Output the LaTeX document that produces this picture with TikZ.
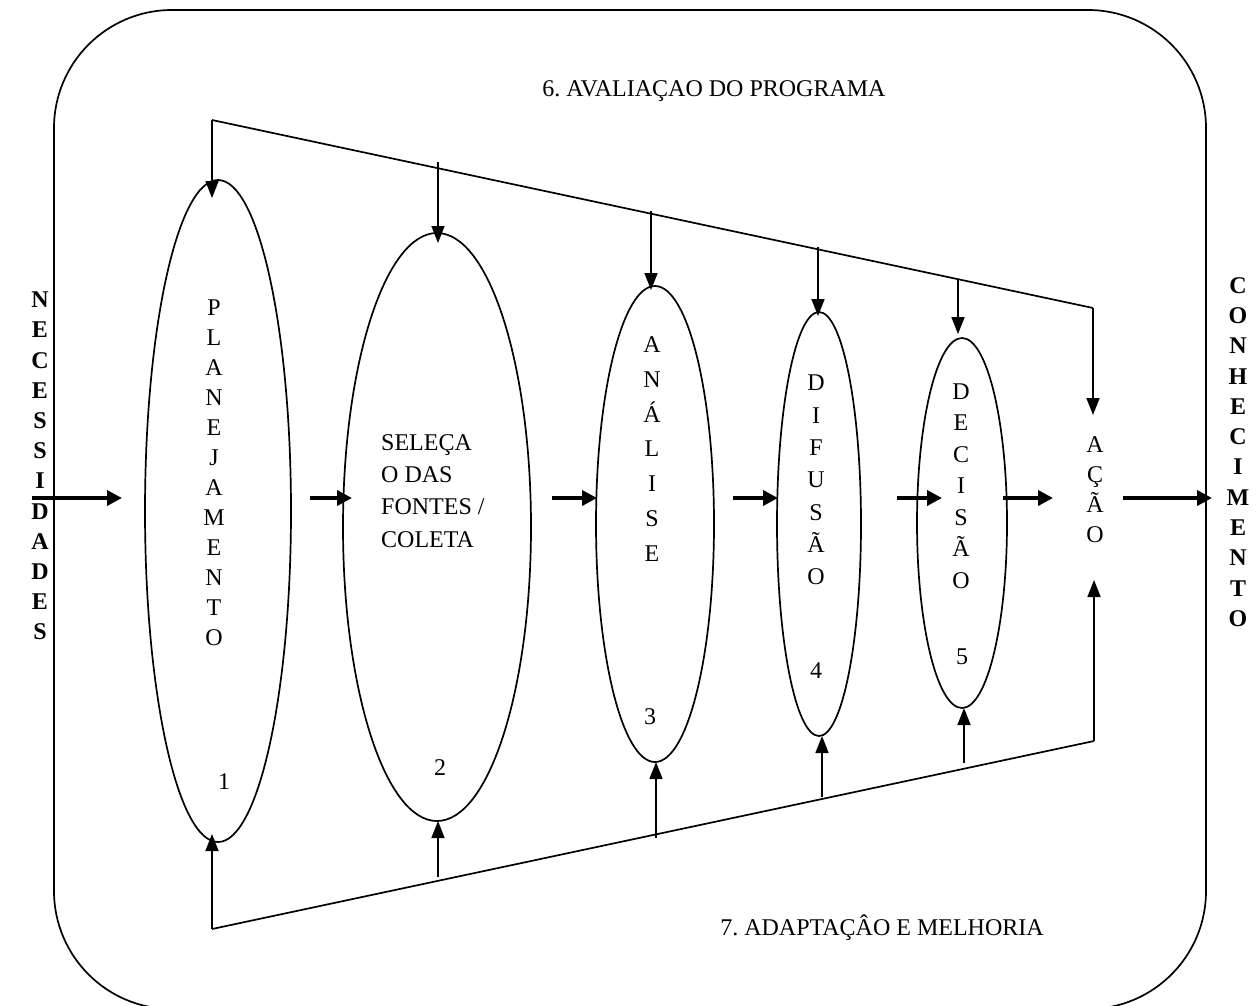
\documentclass[tikz,border=0pt]{standalone}
\usepackage{fontspec}
\setmainfont{Liberation Serif}
\usetikzlibrary{shapes.geometric,arrows.meta}
\begin{document}
\frenchspacing
\begin{tikzpicture}[x=1pt,y=-1pt,
  lbl/.style={font=\fontsize{24}{28}\selectfont, inner sep=0pt},
  stack/.style={inner sep=0pt, align=center, font=\fontsize{24}{#1}\selectfont},
  boldstack/.style={inner sep=0pt, align=center, font=\fontsize{24}{#1}\selectfont\bfseries},
  stage/.style={ellipse, draw, line width=1.7pt, inner sep=0pt, outer sep=0pt},
  feed/.style={line width=1.7pt},
  feedarrow/.style={feed, -{Triangle[length=17pt,width=13pt]}},
  flow/.style={line width=3.6pt, -{Triangle[length=15pt,width=15pt]}},
]
\useasboundingbox (0,0) rectangle (1257,1005);
% outer frame
\draw[line width=1.7pt, rounded corners=118pt] (54,10) rectangle (1206,1009);

% process stages
\node[stage, minimum width=146pt, minimum height=662pt] (e1) at (218,511) {};
\node[stage, minimum width=188pt, minimum height=588pt] (e2) at (437,527) {};
\node[stage, minimum width=118pt, minimum height=476pt] (e3) at (655,524) {};
\node[stage, minimum width=84pt,  minimum height=424pt] (e4) at (819,524) {};
\node[stage, minimum width=90pt,  minimum height=370pt] (e5) at (962,523) {};

% stage labels
\node[stack=30] (pla) at (214,473) {P\\L\\A\\N\\E\\J\\A\\M\\E\\N\\T\\O};
\node[inner sep=0pt, align=left, anchor=west, font=\fontsize{24}{32.3}\selectfont] (sel) at (381,491)
  {SELEÇA\\O DAS\\FONTES /\\COLETA};
\node[stack=34.7] (ana) at (652,449) {A\\N\\Á\\L\\I\\S\\E};
\node[stack=32.3] (dif) at (816,480) {D\\I\\F\\U\\S\\Ã\\O};
\node[stack=31.5] (dec) at (961,486) {D\\E\\C\\I\\S\\Ã\\O};
\node[stack=30] (aca) at (1095,490) {A\\Ç\\Ã\\O};

% stage numbers
\node[lbl] (n1) at (224,782) {1};
\node[lbl] (n2) at (440,768) {2};
\node[lbl] (n3) at (650,717) {3};
\node[lbl] (n4) at (816,671) {4};
\node[lbl] (n5) at (962,657) {5};

% input and output
\node[boldstack=30.2] (nec) at (40,466) {N\\E\\C\\E\\S\\S\\I\\D\\A\\D\\E\\S};
\node[boldstack=30.3] (con) at (1238,452) {C\\O\\N\\H\\E\\C\\I\\M\\E\\N\\T\\O};

% loop titles
\node[lbl] (t6) at (714,91) {6. AVALIAÇAO DO PROGRAMA};
\node[lbl] (t7) at (882,928) {7. ADAPTAÇÂO E MELHORIA};

% main flow
\coordinate (f0a) at (32,498);   \coordinate (f0b) at (122,498);
\coordinate (f1a) at (310,498);  \coordinate (f1b) at (352,498);
\coordinate (f2a) at (552,498);  \coordinate (f2b) at (597,498);
\coordinate (f3a) at (733,498);  \coordinate (f3b) at (778,498);
\coordinate (f4a) at (897,498);  \coordinate (f4b) at (942,498);
\coordinate (f5a) at (1003,498); \coordinate (f5b) at (1053,498);
\coordinate (f6a) at (1123,498); \coordinate (f6b) at (1212,498);
\foreach \i in {0,...,6} \draw[flow] (f\i a) -- (f\i b);

% evaluation loop (top)
\coordinate (ta) at (212,120);
\coordinate (tb) at (1093,308);
\draw[feed] (ta) -- (tb);
\coordinate (t2) at (438,162);
\coordinate (t3) at (651,211);
\coordinate (t4) at (818,247);
\coordinate (t5) at (958,279);
\draw[feedarrow] (ta) -- ([shift={(-6,18)}]e1.north);
\draw[feedarrow] (t2) -- ([shift={(1,10)}]e2.north);
\draw[feedarrow] (t3) -- (651,290);
\draw[feedarrow] (t4) -- (818,316);
\draw[feedarrow] (t5) -- (958,334);
\draw[feedarrow] (tb) -- (1093,415);

% adaptation loop (bottom)
\coordinate (ba) at (212,929);
\coordinate (bb) at (1094,741);
\draw[feed] (ba) -- (bb);
\coordinate (b2) at (438,877);
\coordinate (b3) at (656,838);
\coordinate (b4) at (822,797);
\coordinate (b5) at (964,763);
\draw[feedarrow] (ba) -- ([shift={(-6,-8)}]e1.south);
\draw[feedarrow] (b2) -- ([shift={(1,0)}]e2.south);
\draw[feedarrow] (b3) -- ([shift={(1,0)}]e3.south);
\draw[feedarrow] (b4) -- ([shift={(3,0)}]e4.south);
\draw[feedarrow] (b5) -- ([shift={(2,0)}]e5.south);
\draw[feedarrow] (bb) -- (1094,580);
\end{tikzpicture}
\end{document}
